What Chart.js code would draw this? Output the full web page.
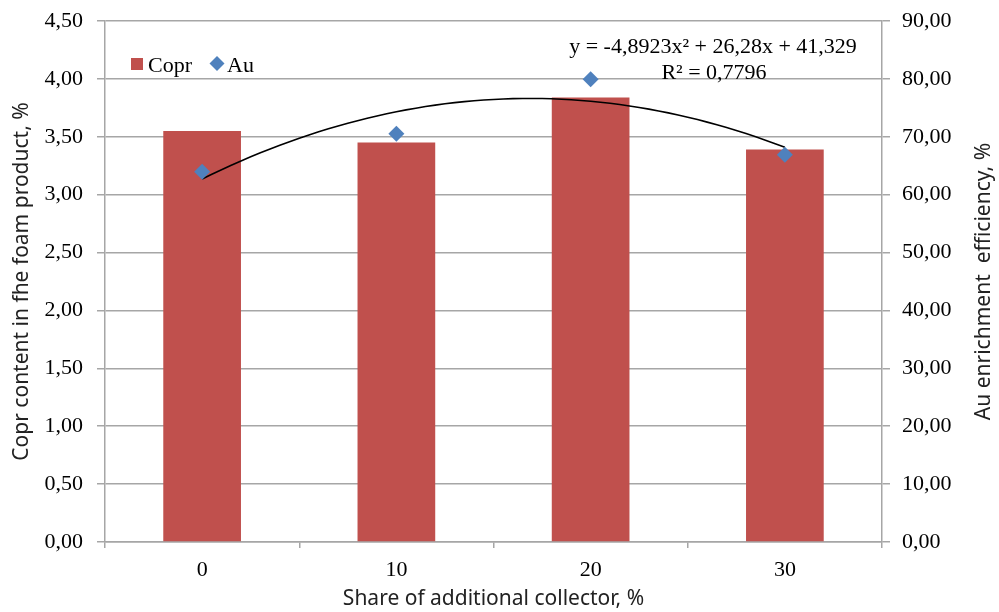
<!DOCTYPE html>
<html>
<head>
<meta charset="utf-8">
<script src="https://cdn.jsdelivr.net/npm/chart.js@4/dist/chart.umd.min.js"></script>
<style>
  html, body { margin: 0; padding: 0; background: #ffffff; }
  #wrap { width: 999px; height: 612px; }
</style>
</head>
<body>
<div id="wrap"><canvas id="chart" width="999" height="612"></canvas></div>
<script>
// Share of additional collector, %
const categories = ['0', '10', '20', '30'];
// Copr content in the foam product, %
const coprValues = [3.55, 3.45, 3.84, 3.39];
// Au enrichment efficiency, %
const auValues = [63.98, 70.54, 79.92, 66.91];
// Polynomial trend of Au (order 2): a, b, c for y = a*x^2 + b*x + c, x = 1..4
const trendCoefficients = [-4.8923, 26.28, 41.329];
const trendLabels = ['y = -4,8923x\u00B2 + 26,28x + 41,329', 'R\u00B2 = 0,7796'];
// Axis ranges
const leftAxis = { min: 0, max: 4.5, step: 0.5 };
const rightAxis = { min: 0, max: 90, step: 10 };

const titleLeft = 'Copr content in fhe foam product, %';
const titleRight = 'Au enrichment  efficiency, %';
const titleBottom = 'Share of additional collector, %';

const RED = '#C0504D';
const BLUE = '#4F81BD';
const GRID = '#A6A6A6';
const SERIF = '"Liberation Serif", "Times New Roman", serif';
const SANS = '"Noto Sans", "Open Sans", sans-serif';

// trend curve sampled across the first to last category
const trendPoints = [];
for (let i = 0; i <= 60; i++) {
  const x = 1 + i * 3 / 60;
  const [a, b, c] = trendCoefficients;
  trendPoints.push({ x: x, y: a * x * x + b * x + c });
}

const commaFmt = v => Number(v).toFixed(2).replace('.', ',');

const overlayText = {
  id: 'overlayText',
  afterDraw(chart) {
    const ctx = chart.ctx;
    const area = chart.chartArea;
    ctx.save();
    // legend inside the plot
    ctx.font = '22px ' + SERIF;
    ctx.textBaseline = 'alphabetic';
    ctx.textAlign = 'left';
    ctx.fillStyle = RED;
    ctx.fillRect(131, 58, 12, 12);
    ctx.fillStyle = '#000';
    ctx.fillText(chart.data.datasets[2].label, 148, 72);
    ctx.fillStyle = BLUE;
    ctx.beginPath();
    ctx.moveTo(217, 56); ctx.lineTo(224.5, 63.5); ctx.lineTo(217, 71); ctx.lineTo(209.5, 63.5);
    ctx.closePath(); ctx.fill();
    ctx.fillStyle = '#000';
    ctx.fillText(chart.data.datasets[0].label, 227, 72);
    // trend equation
    ctx.textAlign = 'center';
    ctx.fillText(trendLabels[0], 713, 53);
    ctx.fillText(trendLabels[1], 714, 79);
    // right axis title, reading bottom to top
    ctx.font = '21px ' + SANS;
    ctx.fillStyle = '#222';
    ctx.translate(984, (area.top + area.bottom) / 2);
    ctx.rotate(-Math.PI / 2);
    ctx.textBaseline = 'middle';
    ctx.fillText(titleRight, 0, 0);
    ctx.restore();
  }
};

// fixed axis box sizes; vertical axes ask for no extra edge padding
const fitVertical = w => s => { s.width = w; s.paddingTop = 0; s.paddingBottom = 0; };

new Chart(document.getElementById('chart'), {
  data: {
    labels: categories,
    datasets: [
      {
        type: 'line',
        label: 'Au',
        data: auValues,
        xAxisID: 'x',
        yAxisID: 'y1',
        showLine: false,
        pointStyle: 'rectRot',
        pointRadius: 8,
        pointBackgroundColor: BLUE,
        pointBorderColor: BLUE,
        pointBorderWidth: 0,
        order: 0
      },
      {
        type: 'line',
        label: 'trend',
        data: trendPoints,
        xAxisID: 'xt',
        yAxisID: 'y1',
        borderColor: '#000000',
        borderWidth: 1.6,
        pointRadius: 0,
        tension: 0,
        fill: false,
        order: 1
      },
      {
        type: 'bar',
        label: 'Copr',
        data: coprValues,
        xAxisID: 'x',
        yAxisID: 'y',
        backgroundColor: RED,
        borderWidth: 0,
        grouped: false,
        categoryPercentage: 1.0,
        barPercentage: 0.4,
        order: 2
      }
    ]
  },
  options: {
    responsive: false,
    animation: false,
    devicePixelRatio: 1,
    layout: { padding: { top: 21, left: 0, right: 0, bottom: 0 } },
    plugins: {
      legend: { display: false },
      tooltip: { enabled: false },
      title: { display: false }
    },
    scales: {
      x: {
        type: 'category',
        position: 'bottom',
        offset: true,
        afterFit: s => { s.height = 70; },
        grid: {
          offset: true,
          drawOnChartArea: false,
          drawTicks: true,
          tickLength: 6,
          color: GRID,
          lineWidth: 1.5
        },
        border: { color: GRID, width: 1.5 },
        ticks: {
          color: '#000',
          font: { family: SERIF, size: 22 },
          padding: 9,
          maxRotation: 0
        },
        title: {
          display: true,
          text: titleBottom,
          color: '#222',
          font: { family: SANS, size: 21 },
          padding: { top: 0, bottom: 0 }
        }
      },
      xt: {
        type: 'linear',
        display: false,
        min: 0.5,
        max: 4.5
      },
      y: {
        type: 'linear',
        position: 'left',
        min: leftAxis.min,
        max: leftAxis.max,
        afterFit: fitVertical(105),
        grid: {
          color: GRID,
          lineWidth: 1.5,
          drawTicks: true,
          tickLength: 8
        },
        border: { color: GRID, width: 1.5 },
        ticks: {
          stepSize: leftAxis.step,
          color: '#000',
          font: { family: SERIF, size: 22 },
          padding: 14,
          callback: v => commaFmt(v)
        },
        title: {
          display: true,
          text: titleLeft,
          color: '#222',
          font: { family: SANS, size: 21 },
          padding: { top: 9, bottom: 0 }
        }
      },
      y1: {
        type: 'linear',
        position: 'right',
        min: rightAxis.min,
        max: rightAxis.max,
        afterFit: fitVertical(117),
        grid: {
          color: GRID,
          lineWidth: 1.5,
          drawOnChartArea: false,
          drawTicks: true,
          tickLength: 8
        },
        border: { color: GRID, width: 1.5 },
        ticks: {
          stepSize: rightAxis.step,
          color: '#000',
          font: { family: SERIF, size: 22 },
          padding: 12,
          callback: v => commaFmt(v)
        }
      }
    }
  },
  plugins: [overlayText]
});
</script>
</body>
</html>
